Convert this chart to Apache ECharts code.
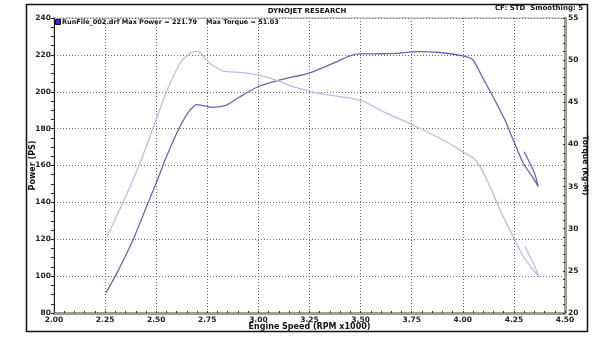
<!DOCTYPE html>
<html>
<head>
<meta charset="utf-8">
<script src="https://cdn.jsdelivr.net/npm/echarts@6/dist/echarts.min.js"></script>
<style>
  html, body { margin: 0; padding: 0; background: #fff; }
  #chart { width: 610px; height: 344px; }
</style>
</head>
<body>
<div id="chart"></div>
<script>
// power curve (left axis, PS) - rpm x1000
const powerRpm = [2.254, 2.30, 2.388, 2.461, 2.502, 2.551, 2.616, 2.665, 2.698, 2.74, 2.778, 2.845, 2.91, 2.998, 3.106, 3.252, 3.365, 3.448, 3.497, 3.60, 3.677, 3.775, 3.888, 4.001, 4.05, 4.10, 4.148, 4.206, 4.247, 4.296, 4.345, 4.369, 4.355, 4.337, 4.30]
const powerVals = [91, 100, 120, 140, 151, 165, 181, 190, 193, 192.2, 191.5, 192.8, 197.3, 202.7, 206.4, 210.3, 215.4, 219.4, 220.5, 220.6, 220.8, 221.8, 221.3, 219.4, 217.2, 207, 197.3, 184.7, 173.8, 161.2, 153.1, 148.5, 154.5, 159.3, 167.5]

// torque curve (right axis, Kg-M)
const torqueRpm = [2.258, 2.339, 2.421, 2.502, 2.551, 2.616, 2.655, 2.69, 2.714, 2.763, 2.828, 2.91, 3.008, 3.09, 3.171, 3.252, 3.334, 3.448, 3.513, 3.611, 3.774, 3.905, 4.002, 4.051, 4.084, 4.133, 4.198, 4.247, 4.296, 4.345, 4.374, 4.345, 4.304]
const torqueVals = [29.0, 33.2, 37.8, 43.1, 46.3, 49.6, 50.6, 51.03, 50.9, 49.6, 48.7, 48.55, 48.2, 47.6, 46.85, 46.3, 45.9, 45.5, 45.1, 43.9, 42.1, 40.5, 39.1, 38.4, 37.4, 35.0, 31.4, 29.05, 26.7, 25.1, 24.3, 25.9, 27.9]

const titleText = 'DYNOJET RESEARCH'
const cfText = 'CF: STD  Smoothing: 5'
const legendPower = 'RunFile_002.drf Max Power = 221.79'
const legendTorque = 'Max Torque = 51.03'

const font = '"DejaVu Sans", Verdana, sans-serif'
const gridColor = '#666'
const railColor = '#9d9d92'

const chart = echarts.init(document.getElementById('chart'))

const powerData = powerRpm.map((r, i) => [r, powerVals[i]])
const torqueData = torqueRpm.map((r, i) => [r, torqueVals[i]])

const labelStyle = {
  fontFamily: font,
  fontSize: 7.5,
  fontWeight: 'bold',
  color: '#222'
}
const nameStyle = {fontFamily: font, fontSize: 8, fontWeight: 'bold', color: '#111'}

let option = {
  animation: false,
  backgroundColor: '#fff',
  grid: {
    left: 54,
    right: 45,
    top: 18,
    bottom: 31,
    show: true,
    borderColor: '#a8a8a0',
    borderWidth: 1
  },
  xAxis: {
    type: 'value',
    min: 2,
    max: 4.5,
    interval: 0.25,
    name: 'Engine Speed (RPM x1000)',
    nameLocation: 'middle',
    nameGap: 10,
    nameMoveOverlap: false,
    nameTextStyle: nameStyle,
    axisLine: {show: true, lineStyle: {color: railColor, width: 3}},
    axisTick: {show: true, inside: true, length: 2, lineStyle: {color: '#333'}},
    minorTick: {show: true, splitNumber: 5, length: 2, lineStyle: {color: '#333'}},
    axisLabel: {
      ...labelStyle,
      margin: 3,
      formatter: v => v.toFixed(2)
    },
    splitLine: {show: true, lineStyle: {color: gridColor, type: [1, 2], width: 1}}
  },
  yAxis: [
    {
      type: 'value',
      min: 80,
      max: 240,
      interval: 20,
      position: 'left',
      name: 'Power (PS)',
      nameLocation: 'middle',
      nameGap: 17,
      nameMoveOverlap: false,
      nameTextStyle: nameStyle,
      axisLine: {show: true, lineStyle: {color: '#222', width: 1}},
      axisTick: {show: true, length: 3, lineStyle: {color: '#222'}},
      minorTick: {show: true, splitNumber: 4, length: 3, lineStyle: {color: '#222'}},
      axisLabel: {...labelStyle, margin: 3},
      splitLine: {show: true, lineStyle: {color: gridColor, type: [1, 2], width: 1}}
    },
    {
      type: 'value',
      min: 20,
      max: 55,
      interval: 5,
      position: 'right',
      name: 'Torque (Kg-M)',
      nameLocation: 'middle',
      nameGap: 16,
      nameRotate: -90,
      nameMoveOverlap: false,
      nameTextStyle: {...nameStyle, fontSize: 7.5},
      axisLine: {show: true, lineStyle: {color: railColor, width: 3}},
      axisTick: {show: true, inside: true, length: 2, lineStyle: {color: '#333'}},
      minorTick: {show: true, splitNumber: 5, length: 2, lineStyle: {color: '#333'}},
      axisLabel: {...labelStyle, margin: 3},
      splitLine: {show: false}
    }
  ],
  graphic: [
    {
      type: 'rect',
      silent: true,
      shape: {x: 26.5, y: 4.5, width: 561, height: 327},
      style: {fill: 'none', stroke: '#111', lineWidth: 1.5}
    },
    {
      type: 'text',
      x: 307,
      y: 11,
      style: {text: titleText, fontFamily: font, fontSize: 7, fontWeight: 'bold', fill: '#111', align: 'center', verticalAlign: 'middle'}
    },
    {
      type: 'text',
      right: 27,
      top: 5,
      style: {text: cfText, fontFamily: font, fontSize: 7, fontWeight: 'bold', fill: '#111'}
    },
    {
      type: 'rect',
      shape: {x: 55.5, y: 19.5, width: 5, height: 5},
      style: {fill: '#2c2ce6', stroke: '#111', lineWidth: 1}
    },
    {
      type: 'text',
      left: 62,
      top: 18.5,
      style: {text: legendPower, fontFamily: font, fontSize: 6.5, fontWeight: 'bold', fill: '#111'}
    },
    {
      type: 'text',
      left: 206,
      top: 18.5,
      style: {text: legendTorque, fontFamily: font, fontSize: 6.5, fontWeight: 'bold', fill: '#111'}
    }
  ],
  series: [
    {
      name: 'Power',
      type: 'line',
      yAxisIndex: 0,
      data: powerData,
      smooth: 0.2,
      showSymbol: false,
      lineStyle: {color: '#6666aa', width: 1.3},
      itemStyle: {color: '#6666aa'}
    },
    {
      name: 'Torque',
      type: 'line',
      yAxisIndex: 1,
      data: torqueData,
      smooth: 0.2,
      showSymbol: false,
      lineStyle: {color: '#bcbce0', width: 1.3},
      itemStyle: {color: '#bcbce0'}
    }
  ]
}
chart.setOption(option)
</script>
</body>
</html>
